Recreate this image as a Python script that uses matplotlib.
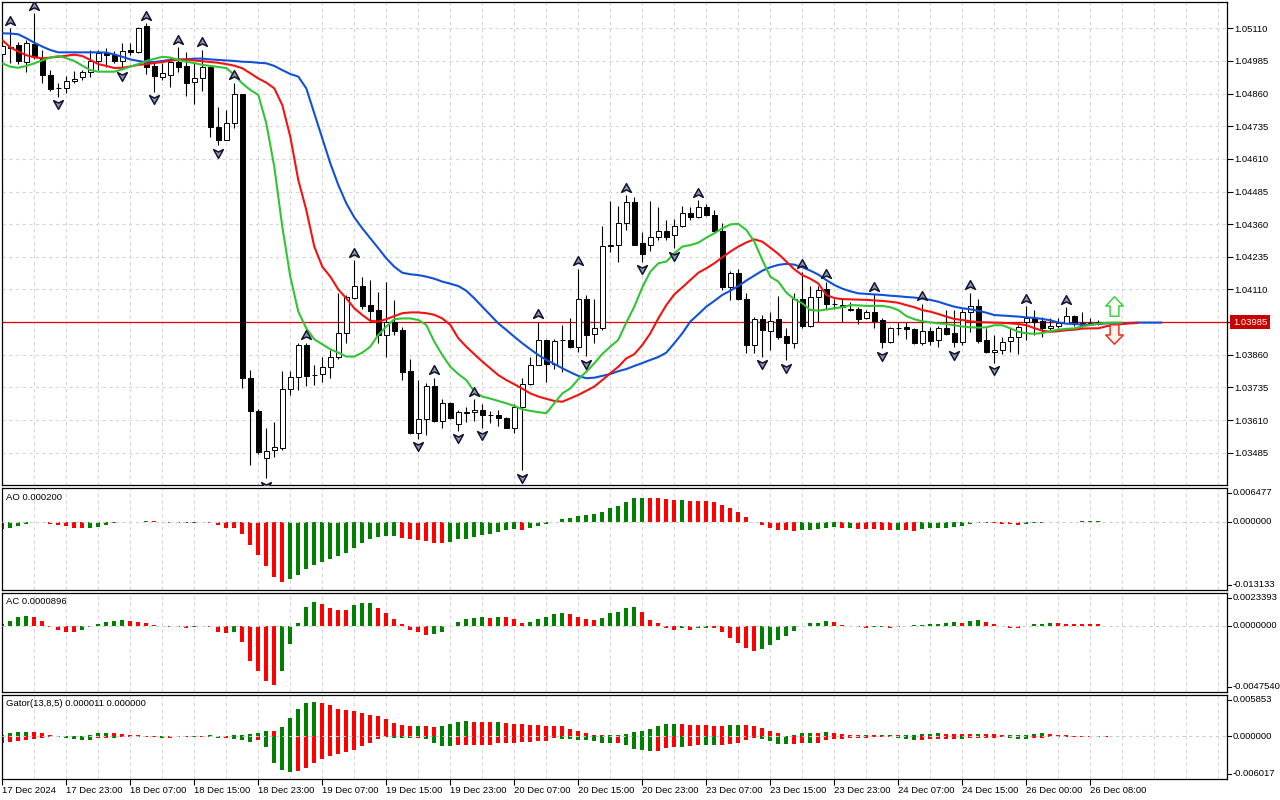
import matplotlib
matplotlib.use("Agg")
import matplotlib.pyplot as plt
import matplotlib.transforms as mtransforms
from matplotlib.path import Path
from matplotlib.lines import Line2D
import numpy as np

plt.rcParams['font.family'] = ['Liberation Sans', 'DejaVu Sans']

# ---------------- data (EURUSD H1) ----------------
open_ = [1.05011, 1.05039, 1.05046, 1.04982, 1.05050, 1.04995, 1.04931, 1.04880, 1.04880, 1.04908,
         1.04922, 1.04944, 1.04986, 1.05016, 1.05007, 1.04986, 1.05027, 1.05020, 1.05120, 1.04965,
         1.04922, 1.04933, 1.04982, 1.04965, 1.04903, 1.04918, 1.04963, 1.04733, 1.04684, 1.04748,
         1.04857, 1.03769, 1.03645, 1.03463, 1.03495, 1.03501, 1.03727, 1.03776, 1.03897, 1.03782,
         1.03786, 1.03814, 1.03850, 1.03945, 1.04079, 1.04123, 1.04050, 1.04031, 1.03935, 1.03986,
         1.03954, 1.03799, 1.03562, 1.03612, 1.03740, 1.03607, 1.03677, 1.03594, 1.03638, 1.03639,
         1.03648, 1.03631, 1.03631, 1.03618, 1.03581, 1.03658, 1.03747, 1.03820, 1.03918, 1.03824,
         1.03915, 1.03915, 1.03890, 1.04072, 1.03941, 1.03963, 1.04278, 1.04282, 1.04363, 1.04443,
         1.04286, 1.04282, 1.04312, 1.04333, 1.04318, 1.04354, 1.04401, 1.04388, 1.04427, 1.04397,
         1.04335, 1.04120, 1.04174, 1.04075, 1.03897, 1.03995, 1.03950, 1.03995, 1.03931, 1.03903,
         1.04075, 1.03970, 1.04082, 1.04110, 1.04054, 1.04050, 1.04037, 1.04037, 1.03999, 1.04022,
         1.03993, 1.03910, 1.03963, 1.03965, 1.03957, 1.03903, 1.03950, 1.03916, 1.03961, 1.03945,
         1.03907, 1.04022, 1.04046, 1.03916, 1.03871, 1.03880, 1.03913, 1.03926, 1.03986, 1.03999,
         1.03989, 1.03961, 1.03970, 1.03982, 1.04008, 1.03980, 1.03980, 1.03979]
high_ = [1.05065, 1.05110, 1.05058, 1.05067, 1.05167, 1.05027, 1.04950, 1.04901, 1.04927, 1.04946,
         1.04950, 1.05027, 1.05027, 1.05033, 1.05024, 1.05055, 1.05052, 1.05116, 1.05129, 1.04982,
         1.04976, 1.04995, 1.05037, 1.05018, 1.04976, 1.05027, 1.04969, 1.04807, 1.04797, 1.04901,
         1.04860, 1.03801, 1.03654, 1.03578, 1.03603, 1.03799, 1.03799, 1.03903, 1.03906, 1.03820,
         1.03852, 1.03878, 1.04095, 1.04088, 1.04222, 1.04158, 1.04148, 1.04101, 1.04139, 1.04069,
         1.03967, 1.03842, 1.03763, 1.03750, 1.03772, 1.03690, 1.03680, 1.03650, 1.03658, 1.03689,
         1.03673, 1.03645, 1.03650, 1.03622, 1.03673, 1.03769, 1.03850, 1.03986, 1.03922, 1.03922,
         1.03973, 1.03999, 1.04190, 1.04088, 1.04073, 1.04352, 1.04448, 1.04429, 1.04471, 1.04465,
         1.04331, 1.04448, 1.04424, 1.04375, 1.04379, 1.04429, 1.04424, 1.04452, 1.04439, 1.04416,
         1.04363, 1.04181, 1.04190, 1.04095, 1.04005, 1.04012, 1.04024, 1.04084, 1.03961, 1.04095,
         1.04178, 1.04123, 1.04123, 1.04139, 1.04072, 1.04075, 1.04063, 1.04041, 1.04033, 1.04092,
         1.03999, 1.03965, 1.03986, 1.03986, 1.03961, 1.04056, 1.03967, 1.03970, 1.04031, 1.04031,
         1.04037, 1.04097, 1.04075, 1.03961, 1.03935, 1.03926, 1.03961, 1.03973, 1.04046, 1.04031,
         1.04005, 1.03999, 1.03999, 1.04041, 1.04012, 1.04024, 1.03999, 1.03992]
low_ = [1.05001, 1.04976, 1.04973, 1.04944, 1.04991, 1.04899, 1.04871, 1.04848, 1.04863, 1.04899,
        1.04914, 1.04924, 1.04950, 1.04963, 1.04978, 1.04956, 1.05007, 1.05014, 1.04935, 1.04867,
        1.04912, 1.04886, 1.04944, 1.04850, 1.04822, 1.04871, 1.04695, 1.04663, 1.04682, 1.04729,
        1.03731, 1.03437, 1.03479, 1.03386, 1.03469, 1.03497, 1.03705, 1.03725, 1.03740, 1.03744,
        1.03756, 1.03769, 1.03842, 1.03903, 1.04075, 1.04037, 1.03986, 1.03903, 1.03852, 1.03935,
        1.03763, 1.03556, 1.03539, 1.03552, 1.03603, 1.03581, 1.03614, 1.03569, 1.03603, 1.03607,
        1.03580, 1.03597, 1.03587, 1.03578, 1.03561, 1.03418, 1.03744, 1.03820, 1.03756, 1.03807,
        1.03795, 1.03884, 1.03871, 1.03855, 1.03906, 1.03954, 1.04252, 1.04216, 1.04337, 1.04280,
        1.04216, 1.04258, 1.04299, 1.04301, 1.04267, 1.04350, 1.04375, 1.04384, 1.04391, 1.04331,
        1.04107, 1.04069, 1.04069, 1.03865, 1.03867, 1.03852, 1.03880, 1.03922, 1.03839, 1.03884,
        1.03961, 1.03967, 1.03986, 1.04037, 1.04037, 1.03986, 1.04028, 1.03976, 1.03995, 1.03961,
        1.03884, 1.03906, 1.03935, 1.03922, 1.03901, 1.03897, 1.03897, 1.03888, 1.03935, 1.03888,
        1.03897, 1.03948, 1.03903, 1.03868, 1.03829, 1.03862, 1.03871, 1.03862, 1.03918, 1.03935,
        1.03926, 1.03955, 1.03961, 1.03980, 1.03970, 1.03965, 1.03974, 1.03975]
close_ = [1.05043, 1.05033, 1.04986, 1.05052, 1.05001, 1.04931, 1.04877, 1.04881, 1.04908, 1.04916,
          1.04941, 1.04986, 1.05016, 1.05006, 1.04986, 1.05024, 1.05018, 1.05110, 1.04963, 1.04927,
          1.04937, 1.04982, 1.04963, 1.04901, 1.04918, 1.04960, 1.04733, 1.04684, 1.04748, 1.04857,
          1.03769, 1.03645, 1.03488, 1.03492, 1.03505, 1.03727, 1.03776, 1.03897, 1.03778, 1.03783,
          1.03814, 1.03850, 1.03945, 1.04082, 1.04123, 1.04047, 1.04028, 1.03935, 1.03986, 1.03952,
          1.03795, 1.03562, 1.03612, 1.03740, 1.03607, 1.03677, 1.03616, 1.03639, 1.03640, 1.03647,
          1.03631, 1.03630, 1.03616, 1.03581, 1.03658, 1.03747, 1.03820, 1.03918, 1.03824, 1.03913,
          1.03917, 1.03890, 1.04072, 1.03935, 1.03963, 1.04277, 1.04281, 1.04363, 1.04443, 1.04282,
          1.04245, 1.04312, 1.04332, 1.04312, 1.04354, 1.04401, 1.04388, 1.04427, 1.04395, 1.04335,
          1.04120, 1.04174, 1.04075, 1.03897, 1.03995, 1.03954, 1.03990, 1.03926, 1.03903, 1.04075,
          1.03971, 1.04082, 1.04107, 1.04056, 1.04055, 1.04041, 1.04031, 1.03996, 1.04022, 1.03990,
          1.03907, 1.03961, 1.03962, 1.03957, 1.03903, 1.03950, 1.03913, 1.03961, 1.03941, 1.03910,
          1.04022, 1.04046, 1.03913, 1.03871, 1.03880, 1.03910, 1.03926, 1.03967, 1.03999, 1.03986,
          1.03961, 1.03970, 1.03982, 1.04008, 1.03977, 1.03974, 1.03979, 1.03985]

# Alligator lines (already shifted forward: jaw +8, teeth +5, lips +3)
jaw = [1.05091, 1.05090, 1.05087, 1.05072, 1.05055, 1.05040, 1.05027, 1.05018, 1.05018, 1.05018,
       1.05018, 1.05018, 1.05018, 1.05017, 1.05010, 1.05001, 1.04991, 1.04985, 1.04980, 1.04981,
       1.04985, 1.04989, 1.04990, 1.04991, 1.04994, 1.04994, 1.04991, 1.04989, 1.04987, 1.04985,
       1.04982, 1.04981, 1.04978, 1.04976, 1.04966, 1.04950, 1.04935, 1.04925, 1.04880, 1.04784,
       1.04689, 1.04593, 1.04510, 1.04440, 1.04386, 1.04344, 1.04306, 1.04268, 1.04229, 1.04197,
       1.04174, 1.04168, 1.04165, 1.04159, 1.04151, 1.04140, 1.04132, 1.04123, 1.04105, 1.04076,
       1.04044, 1.04012, 1.03980, 1.03955, 1.03929, 1.03904, 1.03881, 1.03859, 1.03840, 1.03825,
       1.03808, 1.03793, 1.03779, 1.03770, 1.03772, 1.03779, 1.03786, 1.03797, 1.03805, 1.03817,
       1.03828, 1.03840, 1.03851, 1.03868, 1.03904, 1.03942, 1.03987, 1.04015, 1.04044, 1.04066,
       1.04089, 1.04105, 1.04123, 1.04144, 1.04163, 1.04182, 1.04195, 1.04204, 1.04208, 1.04205,
       1.04195, 1.04182, 1.04167, 1.04146, 1.04127, 1.04113, 1.04103, 1.04095, 1.04093, 1.04091,
       1.04089, 1.04086, 1.04084, 1.04081, 1.04079, 1.04075, 1.04070, 1.04063, 1.04053, 1.04044,
       1.04038, 1.04034, 1.04028, 1.04021, 1.04012, 1.04010, 1.04008, 1.04006, 1.04003, 1.04001,
       1.03997, 1.03992, 1.03983, 1.03979, 1.03978, 1.03975, 1.03975, 1.03978, 1.03980, 1.03980,
       1.03980, 1.03982, 1.03983, 1.03983, 1.03983, 1.03983]
teeth = [1.05065, 1.05037, 1.05021, 1.05007, 1.04999, 1.04995, 1.04998, 1.05001, 1.05005, 1.05009,
         1.05004, 1.04989, 1.04973, 1.04966, 1.04958, 1.04959, 1.04964, 1.04970, 1.04973, 1.04977,
         1.04981, 1.04986, 1.04990, 1.04991, 1.04987, 1.04984, 1.04981, 1.04978, 1.04973, 1.04967,
         1.04957, 1.04938, 1.04918, 1.04902, 1.04880, 1.04816, 1.04695, 1.04529, 1.04414, 1.04274,
         1.04197, 1.04159, 1.04110, 1.04076, 1.04038, 1.04012, 1.03990, 1.03987, 1.03996, 1.04008,
         1.04019, 1.04022, 1.04022, 1.04019, 1.04013, 1.03999, 1.03974, 1.03923, 1.03891, 1.03862,
         1.03834, 1.03808, 1.03782, 1.03763, 1.03747, 1.03730, 1.03712, 1.03700, 1.03691, 1.03683,
         1.03680, 1.03693, 1.03706, 1.03722, 1.03738, 1.03763, 1.03789, 1.03814, 1.03846, 1.03862,
         1.03897, 1.03942, 1.03999, 1.04050, 1.04091, 1.04118, 1.04146, 1.04174, 1.04191, 1.04210,
         1.04233, 1.04255, 1.04274, 1.04290, 1.04302, 1.04293, 1.04270, 1.04246, 1.04217, 1.04187,
         1.04165, 1.04151, 1.04133, 1.04089, 1.04077, 1.04073, 1.04072, 1.04071, 1.04070, 1.04068,
         1.04066, 1.04063, 1.04059, 1.04050, 1.04042, 1.04031, 1.04025, 1.04016, 1.04006, 1.03997,
         1.03993, 1.03988, 1.03985, 1.03984, 1.03983, 1.03982, 1.03980, 1.03978, 1.03973, 1.03962,
         1.03952, 1.03948, 1.03950, 1.03954, 1.03956, 1.03960, 1.03961, 1.03961, 1.03969, 1.03974,
         1.03978, 1.03980, 1.03982]
lips = [1.04976, 1.04963, 1.04959, 1.04966, 1.04976, 1.04987, 1.04998, 1.05004, 1.04996, 1.04985,
        1.04967, 1.04950, 1.04944, 1.04944, 1.04944, 1.04953, 1.04963, 1.04973, 1.04985, 1.04993,
        1.05001, 1.04998, 1.04989, 1.04982, 1.04977, 1.04970, 1.04966, 1.04962, 1.04958, 1.04931,
        1.04899, 1.04874, 1.04855, 1.04746, 1.04580, 1.04350, 1.04159, 1.04025, 1.03961, 1.03919,
        1.03900, 1.03881, 1.03868, 1.03853, 1.03853, 1.03868, 1.03891, 1.03936, 1.03968, 1.03996,
        1.03999, 1.03999, 1.03993, 1.03974, 1.03910, 1.03859, 1.03814, 1.03786, 1.03763, 1.03719,
        1.03700, 1.03692, 1.03683, 1.03674, 1.03664, 1.03651, 1.03645, 1.03640, 1.03636, 1.03674,
        1.03712, 1.03731, 1.03766, 1.03795, 1.03827, 1.03863, 1.03891, 1.03917, 1.03983, 1.04044,
        1.04118, 1.04178, 1.04210, 1.04217, 1.04248, 1.04274, 1.04280, 1.04289, 1.04308, 1.04325,
        1.04344, 1.04359, 1.04361, 1.04338, 1.04293, 1.04223, 1.04159, 1.04140, 1.04098, 1.04073,
        1.04057, 1.04031, 1.04029, 1.04033, 1.04038, 1.04042, 1.04050, 1.04049, 1.04047, 1.04047,
        1.04047, 1.04042, 1.04031, 1.04008, 1.03996, 1.03988, 1.03984, 1.03980, 1.03978, 1.03973,
        1.03968, 1.03965, 1.03964, 1.03965, 1.03973, 1.03973, 1.03961, 1.03948, 1.03942, 1.03940,
        1.03943, 1.03950, 1.03956, 1.03959, 1.03961, 1.03968, 1.03974, 1.03979, 1.03982, 1.03983,
        1.03983]

fractal_up = [1, 4, 18, 22, 25, 29, 38, 44, 54, 59, 67, 72, 78, 87, 100, 103, 109, 115, 121, 128, 133]
fractal_down = [7, 15, 19, 27, 33, 52, 57, 60, 65, 73, 80, 84, 95, 98, 110, 119, 124]

ao = [-0.00147, -0.00115, -0.00077, -0.00038, -0.00013, -0.00006, -0.00038, -0.00058, -0.00083, -0.00115,
      -0.00122, -0.00115, -0.00096, -0.00064, -0.00032, -0.00013, -0.00006, -0.00002, 0.00019, 0.00006,
      -0.00013, -0.00016, -0.00019, -0.00032, -0.00019, -0.00006, -0.00032, -0.00070, -0.00115, -0.00128,
      -0.00231, -0.00449, -0.00641, -0.00852, -0.01057, -0.01160, -0.01096, -0.01025, -0.00904, -0.00833,
      -0.00775, -0.00711, -0.00660, -0.00596, -0.00506, -0.00404, -0.00327, -0.00288, -0.00276, -0.00269,
      -0.00308, -0.00327, -0.00352, -0.00372, -0.00404, -0.00410, -0.00384, -0.00340, -0.00327, -0.00288,
      -0.00256, -0.00231, -0.00192, -0.00154, -0.00147, -0.00154, -0.00115, -0.00077, -0.00038, -0.00013,
      0.00051, 0.00070, 0.00109, 0.00122, 0.00141, 0.00186, 0.00263, 0.00301, 0.00378, 0.00449,
      0.00461, 0.00458, 0.00449, 0.00436, 0.00410, 0.00417, 0.00397, 0.00394, 0.00391, 0.00384,
      0.00320, 0.00269, 0.00192, 0.00090, -0.00003, -0.00070, -0.00115, -0.00154, -0.00167, -0.00173,
      -0.00167, -0.00154, -0.00147, -0.00115, -0.00109, -0.00122, -0.00115, -0.00135, -0.00141, -0.00147,
      -0.00154, -0.00160, -0.00154, -0.00160, -0.00173, -0.00147, -0.00128, -0.00122, -0.00115, -0.00096,
      -0.00090, -0.00051, -0.00032, -0.00026, -0.00032, -0.00038, -0.00051, -0.00070, -0.00051, -0.00032,
      -0.00019, -0.00013, -0.00006, -0.00003, 0.00001, 0.00006, 0.00010, 0.00020]

ac = [0.00010, 0.00036, 0.00064, 0.00067, 0.00064, 0.00036, -0.00007, -0.00029, -0.00043, -0.00048,
      -0.00031, -0.00012, 0.00014, 0.00029, 0.00036, 0.00037, 0.00036, 0.00029, 0.00021, 0.00007,
      -0.00005, -0.00010, -0.00012, -0.00019, -0.00012, -0.00005, -0.00012, -0.00043, -0.00055, -0.00048,
      -0.00119, -0.00251, -0.00327, -0.00394, -0.00423, -0.00327, -0.00134, 0.00017, 0.00136, 0.00172,
      0.00155, 0.00129, 0.00115, 0.00113, 0.00150, 0.00162, 0.00165, 0.00129, 0.00093, 0.00050,
      0.00014, -0.00029, -0.00048, -0.00064, -0.00062, -0.00048, -0.00005, 0.00029, 0.00048, 0.00057,
      0.00064, 0.00057, 0.00064, 0.00063, 0.00050, 0.00021, 0.00029, 0.00050, 0.00064, 0.00081,
      0.00093, 0.00081, 0.00064, 0.00050, 0.00043, 0.00057, 0.00093, 0.00100, 0.00129, 0.00136,
      0.00100, 0.00043, 0.00017, -0.00019, -0.00033, -0.00019, -0.00029, -0.00019, -0.00014, -0.00019,
      -0.00048, -0.00091, -0.00127, -0.00162, -0.00184, -0.00170, -0.00141, -0.00105, -0.00076, -0.00041,
      -0.00005, 0.00017, 0.00021, 0.00034, 0.00026, 0.00002, -0.00002, -0.00010, -0.00019, -0.00012,
      -0.00010, -0.00019, -0.00010, -0.00005, 0.00002, 0.00007, 0.00012, 0.00014, 0.00019, 0.00026,
      0.00019, 0.00033, 0.00038, 0.00024, 0.00010, -0.00005, -0.00017, -0.00019, -0.00005, 0.00012,
      0.00014, 0.00018, 0.00017, 0.00014, 0.00012, 0.00011, 0.00010, 0.0000896]

gator_up = [0.00019, 0.00042, 0.00057, 0.00061, 0.00057, 0.00042, 0.00014, 0.00012, 0.00009, 0.00005,
            0.00002, 0.00015, 0.00047, 0.00049, 0.00047, 0.00028, 0.00026, 0.00014, 0.00012, 0.00005,
            0.00004, 0.00003, 0.00005, 0.00002, 0.00004, 0.00009, 0.00014, 0.00009, 0.00007, 0.00014,
            0.00024, 0.00028, 0.00042, 0.00075, 0.00073, 0.00132, 0.00259, 0.00391, 0.00471, 0.00485,
            0.00476, 0.00438, 0.00391, 0.00367, 0.00353, 0.00334, 0.00306, 0.00283, 0.00240, 0.00188,
            0.00155, 0.00141, 0.00144, 0.00141, 0.00127, 0.00141, 0.00170, 0.00198, 0.00212, 0.00203,
            0.00200, 0.00198, 0.00200, 0.00184, 0.00174, 0.00170, 0.00160, 0.00155, 0.00153, 0.00146,
            0.00141, 0.00099, 0.00071, 0.00042, 0.00019, 0.00016, 0.00019, 0.00021, 0.00028, 0.00057,
            0.00071, 0.00099, 0.00141, 0.00170, 0.00172, 0.00170, 0.00160, 0.00158, 0.00155, 0.00146,
            0.00141, 0.00155, 0.00158, 0.00155, 0.00141, 0.00113, 0.00071, 0.00042, 0.00002, 0.00014,
            0.00042, 0.00045, 0.00042, 0.00057, 0.00054, 0.00028, 0.00019, 0.00014, 0.00016, 0.00014,
            0.00016, 0.00019, 0.00016, 0.00024, 0.00026, 0.00028, 0.00040, 0.00042, 0.00041, 0.00040,
            0.00039, 0.00038, 0.00040, 0.00039, 0.00028, 0.00019, 0.00021, 0.00024, 0.00026, 0.00028,
            0.00042, 0.00038, 0.00019, 0.00014, 0.00009, 0.00011, 0.00009, 0.00011, 0.00009, 0.00007,
            0.00005, 0.00002, 0.000011]
gator_down = [-0.00094, -0.00080, -0.00071, -0.00057, -0.00033, -0.00019, -0.00014, -0.00013, -0.00024, -0.00042,
              -0.00054, -0.00056, -0.00024, -0.00019, -0.00021, -0.00014, -0.00009, -0.00014, -0.00013, -0.00009,
              -0.00024, -0.00023, -0.00009, -0.00005, -0.00009, -0.00005, -0.00014, -0.00024, -0.00023, -0.00033,
              -0.00057, -0.00080, -0.00057, -0.00151, -0.00377, -0.00471, -0.00504, -0.00495, -0.00447, -0.00377,
              -0.00316, -0.00278, -0.00254, -0.00221, -0.00188, -0.00137, -0.00089, -0.00042, -0.00014, -0.00016,
              -0.00024, -0.00026, -0.00024, -0.00038, -0.00094, -0.00137, -0.00139, -0.00122, -0.00121, -0.00120,
              -0.00119, -0.00118, -0.00094, -0.00093, -0.00092, -0.00080, -0.00079, -0.00066, -0.00065, -0.00024,
              -0.00038, -0.00040, -0.00052, -0.00054, -0.00066, -0.00094, -0.00096, -0.00094, -0.00122, -0.00179,
              -0.00193, -0.00207, -0.00205, -0.00165, -0.00151, -0.00153, -0.00137, -0.00122, -0.00124, -0.00127,
              -0.00122, -0.00108, -0.00094, -0.00052, -0.00024, -0.00038, -0.00066, -0.00108, -0.00111, -0.00108,
              -0.00094, -0.00096, -0.00094, -0.00052, -0.00038, -0.00035, -0.00024, -0.00019, -0.00016, -0.00015,
              -0.00014, -0.00013, -0.00024, -0.00038, -0.00052, -0.00049, -0.00038, -0.00037, -0.00036, -0.00035,
              -0.00038, -0.00024, -0.00023, -0.00022, -0.00019, -0.00014, -0.00024, -0.00038, -0.00040, -0.00024,
              -0.00019, -0.00014, -0.00009, -0.00008, -0.00005, -0.00004, -0.00003, -0.00002, -0.000015, -0.00001,
              -0.000005, -0.000002, 0.0]

price_ticks = [1.05110, 1.04985, 1.04860, 1.04735, 1.04610, 1.04485, 1.04360,
               1.04235, 1.04110, 1.03985, 1.03860, 1.03735, 1.03610, 1.03485]
current_price = 1.03985

x_labels = ["17 Dec 2024", "17 Dec 23:00", "18 Dec 07:00", "18 Dec 15:00", "18 Dec 23:00",
            "19 Dec 07:00", "19 Dec 15:00", "19 Dec 23:00", "20 Dec 07:00", "20 Dec 15:00",
            "20 Dec 23:00", "23 Dec 07:00", "23 Dec 15:00", "23 Dec 23:00", "24 Dec 07:00",
            "24 Dec 15:00", "26 Dec 00:00", "26 Dec 08:00"]
x_label_step = 8

ao_title = "AO 0.000200"
ac_title = "AC 0.0000896"
gator_title = "Gator(13,8,5) 0.000011 0.000000"
ao_range = (-0.013133, 0.006477)
ac_range = (-0.0047540, 0.0023393)
gator_range = (-0.006017, 0.005853)
ao_labels = ("0.006477", "0.000000", "-0.013133")
ac_labels = ("0.0023393", "0.0000000", "-0.0047540")
gator_labels = ("0.005853", "0.000000", "-0.006017")

# ---------------- style / layout ----------------
FW, FH = 1280, 800
GREEN, RED = '#008000', '#ff0000'
GRID = '#d6d6d6'
FS = 6.8
BAR0_PX, STEP_PX = 2.3, 8.0
LEFT_PX, RIGHT_PX = 1.5, 1227.0

fig = plt.figure(figsize=(FW / 100, FH / 100), dpi=100)
fig.patch.set_facecolor('white')


def panel(top, bottom):
    ax = fig.add_axes([LEFT_PX / FW, 1 - bottom / FH, (RIGHT_PX - LEFT_PX) / FW, (bottom - top) / FH])
    ax.set_facecolor('white')
    ax.set_xlim((LEFT_PX - BAR0_PX) / STEP_PX, (RIGHT_PX - BAR0_PX) / STEP_PX)
    for s in ax.spines.values():
        s.set_color('black')
        s.set_linewidth(0.9)
    ax.set_xticks([])
    ax.set_yticks([])
    for g in range(0, 156, 4):
        ax.axvline(g, color=GRID, lw=0.8, ls=(0, (3, 3)), zorder=0)
    return ax


panels = {
    'main': (2, 485),
    'ao': (488, 590),
    'ac': (593, 692),
    'gator': (695, 779),
}
ax = panel(*panels['main'])
ax_ao = panel(*panels['ao'])
ax_ac = panel(*panels['ac'])
ax_gt = panel(*panels['gator'])

# ---------------- main chart ----------------
o = np.array(open_); h = np.array(high_); l = np.array(low_); c = np.array(close_)
x = np.arange(len(c))
ax.set_ylim(1.033611, 1.052108)
for p in price_ticks:
    ax.axhline(p, color=GRID, lw=0.8, ls=(0, (3, 3)), zorder=0)
ax.axhline(current_price, color='#e00000', lw=0.9, zorder=1)

ax.vlines(x, l, h, color='black', lw=0.8, zorder=2)
bull = c >= o
body_bot = np.minimum(o, c)
body_h = np.maximum(np.abs(c - o), 0.000004)
ax.bar(x, body_h, bottom=body_bot, width=0.56, color=np.where(bull, 'white', 'black'),
       edgecolor='black', linewidth=0.7, zorder=3)

ax.plot(np.arange(len(jaw)), jaw, color='#1150d8', lw=1.5, zorder=4, solid_capstyle='butt')
ax.plot(np.arange(len(teeth)), teeth, color='#f21212', lw=1.5, zorder=4, solid_capstyle='butt')
ax.plot(np.arange(len(lips)), lips, color='#33c433', lw=1.5, zorder=4, solid_capstyle='butt')

up_mark = Path([(0, 1), (1, -0.8), (0, -0.3), (-1, -0.8), (0, 1)],
               [Path.MOVETO, Path.LINETO, Path.LINETO, Path.LINETO, Path.CLOSEPOLY])
dn_mark = Path([(0, -1), (1, 0.8), (0, 0.3), (-1, 0.8), (0, -1)],
               [Path.MOVETO, Path.LINETO, Path.LINETO, Path.LINETO, Path.CLOSEPOLY])
tr_up = mtransforms.offset_copy(ax.transData, fig=fig, x=0, y=7.5, units='dots')
tr_dn = mtransforms.offset_copy(ax.transData, fig=fig, x=0, y=-7.5, units='dots')
fu = np.array(fractal_up); fd = np.array(fractal_down)
ax.plot(fu, h[fu], ls='none', marker=up_mark, ms=7.0, mfc='#8a98c0', mec='#14142c', mew=1.1,
        transform=tr_up, zorder=5)
ax.plot(fd, l[fd], ls='none', marker=dn_mark, ms=7.0, mfc='#8a98c0', mec='#14142c', mew=1.1,
        transform=tr_dn, zorder=5)

# buy / sell block arrows right of the last bar
blk_up = Path([(0, 1), (0.9, 0.05), (0.45, 0.05), (0.45, -1), (-0.45, -1), (-0.45, 0.05),
               (-0.9, 0.05), (0, 1)],
              [Path.MOVETO] + [Path.LINETO] * 6 + [Path.CLOSEPOLY])
blk_dn = Path([(0, -1), (0.9, -0.05), (0.45, -0.05), (0.45, 1), (-0.45, 1), (-0.45, -0.05),
               (-0.9, -0.05), (0, -1)],
              [Path.MOVETO] + [Path.LINETO] * 6 + [Path.CLOSEPOLY])
arrow_x = len(c) + 1
ax.plot([arrow_x], [c[-1]], ls='none', marker=blk_up, ms=14, mfc='white', mec='#3fcf3f', mew=1.1,
        transform=mtransforms.offset_copy(ax.transData, fig=fig, x=0, y=16, units='dots'), zorder=6)
ax.plot([arrow_x], [c[-1]], ls='none', marker=blk_dn, ms=14, mfc='#fff4ee', mec='#f03020', mew=1.1,
        transform=mtransforms.offset_copy(ax.transData, fig=fig, x=0, y=-12, units='dots'), zorder=6)

ax.yaxis.tick_right()
ax.set_yticks(price_ticks)
ax.set_yticklabels([f'{p:.5f}' for p in price_ticks])
ax.tick_params(axis='y', length=4, width=0.8, pad=1.5, labelsize=FS, direction='out')
ax.annotate(f'{current_price:.5f}', xy=(1, current_price), xycoords=('axes fraction', 'data'),
            xytext=(6, 0), textcoords='offset pixels', color='white', fontsize=FS, va='center',
            ha='left', annotation_clip=False, zorder=10,
            bbox=dict(boxstyle='square,pad=0.28', fc='#c80000', ec='none'))


# ---------------- indicator panels ----------------
def trend_colors(vals, use_abs=False):
    v = np.abs(np.asarray(vals)) if use_abs else np.asarray(vals)
    cols = []
    prev = GREEN
    for k in range(len(v)):
        if k == 0 or v[k] > v[k - 1]:
            col = GREEN
        elif v[k] < v[k - 1]:
            col = RED
        else:
            col = prev
        cols.append(col)
        prev = col
    return cols


def indicator(axi, key, rng, title, labels):
    top, bottom = panels[key]
    axi.set_ylim(*rng)
    axi.axhline(0, color='#cfcfcf', lw=0.8, ls=(0, (3, 3)), zorder=3)
    axi.annotate(title, xy=(0, 1), xycoords='axes fraction', xytext=(4.5, -9),
                 textcoords='offset pixels', fontsize=FS, va='center', ha='left')
    zero_px = top + (rng[1] - 0) / (rng[1] - rng[0]) * (bottom - top)
    for lab, ypx in zip(labels, (top + 4.5, zero_px, bottom - 5.5)):
        fig.text(1233 / FW, 1 - ypx / FH, lab, fontsize=FS, va='center', ha='left')
        fig.add_artist(Line2D([RIGHT_PX / FW, (RIGHT_PX + 4) / FW], [1 - ypx / FH] * 2,
                              transform=fig.transFigure, color='black', lw=0.8))


xa = np.arange(len(ao))
ax_ao.bar(xa, ao, width=0.5, color=trend_colors(ao), linewidth=0, zorder=2)
indicator(ax_ao, 'ao', ao_range, ao_title, ao_labels)

xc = np.arange(len(ac))
ax_ac.bar(xc, ac, width=0.5, color=trend_colors(ac), linewidth=0, zorder=2)
indicator(ax_ac, 'ac', ac_range, ac_title, ac_labels)

xg = np.arange(len(gator_up))
ax_gt.bar(xg, gator_up, width=0.5, color=trend_colors(gator_up), linewidth=0, zorder=2)
ax_gt.bar(np.arange(len(gator_down)), gator_down, width=0.5,
          color=trend_colors(gator_down, use_abs=True), linewidth=0, zorder=2)
indicator(ax_gt, 'gator', gator_range, gator_title, gator_labels)

ax_gt.set_xticks(np.arange(len(x_labels)) * x_label_step)
ax_gt.set_xticklabels(x_labels, ha='left')
ax_gt.tick_params(axis='x', length=4, width=0.8, pad=1.2, labelsize=FS, direction='out')

fig.savefig('out.png', dpi=100, facecolor='white')
